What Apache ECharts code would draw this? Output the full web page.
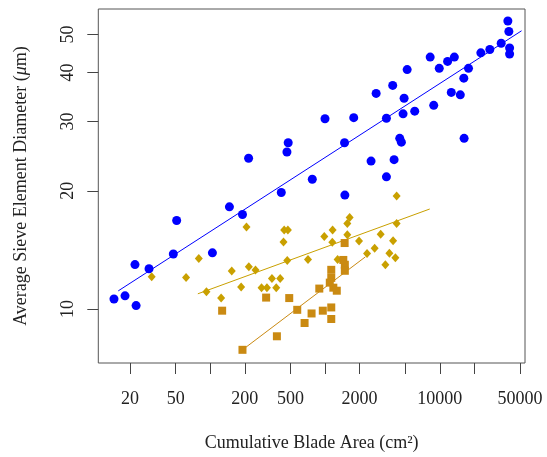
<!DOCTYPE html>
<html><head><meta charset="utf-8">
<script src="https://cdn.jsdelivr.net/npm/echarts@6/dist/echarts.min.js"></script>
<style>html,body{margin:0;padding:0;background:#fff}#c{width:547px;height:457px}</style>
</head><body><div id="c"></div>
<script>
// Tick values
const xTicks = [20, 50, 100, 200, 500, 1000, 2000, 5000, 10000, 20000, 50000];
const xLabels = [20, 50, 200, 500, 2000, 10000, 50000];
const yTicks = [10, 20, 30, 40, 50];

// Blue circles
const circleX = [39200, 40000, 34300, 40600, 40600, 27300, 22800, 8250, 11700, 13400, 9900, 17800, 5200, 16200,
  2790, 3890, 4890, 12600, 15100, 1000, 1780, 3430, 4790, 6050, 8860, 1480, 4480, 4630, 16300, 2520, 4000,
  775, 3430, 1490, 216, 478, 466, 416, 147, 191, 51, 47.7, 104.5, 22.1, 29.3, 18.1, 14.5, 22.6];
const circleY = [54.1, 50.9, 47.5, 46.2, 44.6, 45.8, 44.9, 43.8, 42.7, 43.8, 41.0, 41.0, 40.7, 38.7,
  35.4, 37.1, 34.4, 35.6, 35.1, 30.5, 30.7, 30.6, 31.4, 31.9, 33.0, 26.5, 27.2, 26.6, 27.2, 23.8, 24.0,
  21.4, 21.7, 19.5, 24.2, 26.5, 25.1, 19.8, 18.2, 17.4, 16.8, 13.8, 13.9, 12.97, 12.66, 10.8, 10.6, 10.2];

// Gold diamonds
const diamondX = [30.9, 61.6, 79.5, 92.7, 124.5, 154, 186, 217, 248, 207, 280, 312, 345, 407, 376, 435, 441, 475,
  469, 711, 4210, 1640, 1565, 1165, 986, 1158, 1565, 1980, 3056, 4210, 3920, 2708, 2325, 3640, 4106, 3358, 1288];
const diamondY = [12.08, 12.03, 13.44, 11.07, 10.67, 12.49, 11.38, 12.8, 12.56, 16.16, 11.33, 11.33, 11.96, 11.96,
  11.33, 14.81, 15.9, 15.9, 13.28, 13.36, 19.4, 17.1, 16.5, 15.9, 15.3, 14.78, 15.45, 14.9, 15.5, 16.5, 14.92,
  14.27, 13.84, 13.87, 13.5, 12.96, 13.36];

// Orange squares
const squareX = [127, 191, 307, 381, 488, 573, 664, 764, 892, 957, 1134, 1134, 1101, 1182, 1267, 1134, 1134,
  1444, 1489, 1489, 1483];
const squareY = [9.9, 7.87, 10.69, 8.52, 10.66, 9.95, 9.21, 9.74, 11.27, 9.9, 12.58, 12.0, 11.67, 11.33, 11.13,
  10.09, 9.43, 13.33, 12.96, 12.51, 14.72];

// Fitted lines (end points)
const circleFitX = [15.8, 51600];
const circleFitY = [11.12, 51.1];
const diamondFitX = [78, 8180];
const diamondFitY = [10.93, 17.97];
const squareFitX = [191, 2247];
const squareFitY = [7.87, 13.57];

const L = Math.log10;
const pts = (xs, ys) => xs.map((x, i) => [L(x), L(ys[i])]);

const blue = '#0000FF', gold = '#C9A000', orange = '#CA8A12';
const font = 'Liberation Serif';
const tc = '#222';

const chart = echarts.init(document.getElementById('c'), null, {renderer: 'canvas'});
chart.setOption({
  animation: false,
  backgroundColor: '#fff',
  grid: {left: 98.3, right: 22, top: 9, bottom: 91, show: true, borderColor: '#555', borderWidth: 1, backgroundColor: 'transparent'},
  xAxis: {
    type: 'value', min: 1.0248, max: 4.7427,
    splitLine: {show: false},
    axisLine: {show: false},
    axisTick: {show: true, length: 11, lineStyle: {color: '#444'}, customValues: xTicks.map(L)},
    axisLabel: {customValues: xLabels.map(L), formatter: v => String(Math.round(Math.pow(10, v))),
      color: tc, fontFamily: font, fontSize: 18, margin: 27},
    name: 'Cumulative Blade Area (cm²)', nameLocation: 'middle', nameGap: 71,
    nameTextStyle: {color: tc, fontFamily: font, fontSize: 18}
  },
  yAxis: {
    type: 'value', min: 0.8624, max: 1.7639,
    splitLine: {show: false},
    axisLine: {show: false},
    axisTick: {show: true, length: 11, lineStyle: {color: '#444'}, customValues: yTicks.map(L)},
    axisLabel: {customValues: yTicks.map(L), formatter: v => String(Math.round(Math.pow(10, v))),
      rotate: 90, color: tc, fontFamily: font, fontSize: 18, margin: 21},
    name: '{a|Average Sieve Element Diameter (}{i|μ}{a|m)}', nameLocation: 'middle', nameGap: 68,
    nameTextStyle: {color: tc, fontFamily: font, fontSize: 18,
      rich: {a: {color: tc, fontFamily: font, fontSize: 18}, i: {color: tc, fontFamily: font, fontSize: 18, fontStyle: 'italic'}}}
  },
  series: [
    {type: 'line', data: pts(circleFitX, circleFitY), symbol: 'none', lineStyle: {color: blue, width: 1}, silent: true, z: 1},
    {type: 'line', data: pts(diamondFitX, diamondFitY), symbol: 'none', lineStyle: {color: gold, width: 1}, silent: true, z: 1},
    {type: 'line', data: pts(squareFitX, squareFitY), symbol: 'none', lineStyle: {color: orange, width: 1}, silent: true, z: 1},
    {type: 'scatter', data: pts(circleX, circleY), symbol: 'circle', symbolSize: 9, itemStyle: {color: blue, opacity: 1}, z: 2},
    {type: 'scatter', data: pts(diamondX, diamondY), symbol: 'diamond', symbolSize: [8, 9], itemStyle: {color: gold, opacity: 1}, z: 2},
    {type: 'scatter', data: pts(squareX, squareY), symbol: 'rect', symbolSize: 8, itemStyle: {color: orange, opacity: 1}, z: 2}
  ]
});
</script></body></html>
